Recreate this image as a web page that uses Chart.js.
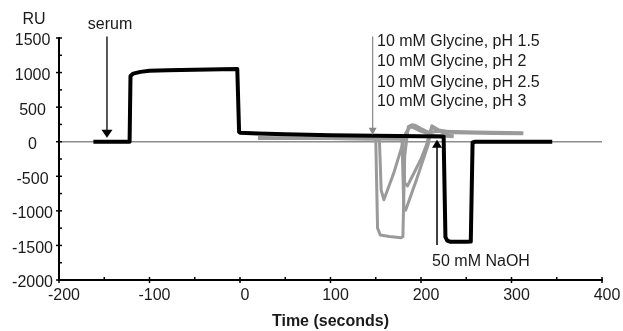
<!DOCTYPE html>
<html><head><meta charset="utf-8">
<script src="https://cdn.jsdelivr.net/npm/chart.js@4/dist/chart.umd.min.js"></script>
<style>html,body{margin:0;padding:0;background:#fff;} #wrap{width:623px;height:331px;}</style>
</head><body><div id="wrap"><canvas id="c" width="623" height="331"></canvas></div>
<script>
// ---- axis ticks ----
const xTickValues = [-200, -100, 0, 100, 200, 300, 400];
const xMinorValues = [-150, -50, 50, 150, 250, 350];
const yTickValues = [-2000, -1500, -1000, -500, 0, 500, 1000, 1500];
const yMinorValues = [-1750, -1250, -750, -250, 250, 750, 1250];

// ---- black sensorgram: serum injection + 50 mM NaOH ----
const serumTime = [-162, -122, -121, -118, -110, -100, -80, -50, -20, -3, -1, 0, 20, 50, 100, 150, 200, 225, 227, 229, 232, 250, 255, 257, 260, 300, 345];
const serumRU   = [0, 0, 950, 985, 1010, 1025, 1035, 1042, 1048, 1052, 140, 130, 120, 108, 95, 85, 80, 77, -1380, -1430, -1445, -1448, -1445, -10, 0, 0, 0];

// ---- grey sensorgrams: glycine regenerations ----
const glyA_Time = [20, 60, 100, 150, 152, 155, 165, 178, 180, 182, 186, 190, 193, 200, 208, 225, 260, 313];
const glyA_RU   = [60, 55, 50, 45, -1250, -1350, -1370, -1390, -1370, -200, 220, 245, 240, 190, 140, 150, 140, 130];
const glyB_Time = [20, 100, 154, 156, 159, 170, 180, 183, 187, 190, 200, 215, 236];
const glyB_RU   = [50, 45, 40, -700, -840, -450, -20, 120, 200, 215, 150, 90, 70];
const glyC_Time = [20, 100, 179, 181, 183, 195, 208, 210, 212, 220, 236, 280, 313];
const glyC_RU   = [50, 45, 40, -950, -990, -550, -40, 120, 230, 170, 130, 120, 115];
const glyD_Time = [20, 100, 180, 182, 185, 200, 206, 209, 212, 220, 236];
const glyD_RU   = [50, 45, 40, -600, -640, -250, -50, 100, 210, 150, 80];

// ---- annotations (data coordinates) ----
const serumArrow = {t: -147, from: 1520, to: 58};
const serumLabel = {t: -143.6, v: 1696, text: 'serum'};
const glyArrow = {t: 146.6, from: 1520, to: 101};
const glyLabelT = 151.4;
const glyLabelV = [1449, 1159, 855, 580];
const glyLabels = ['10 mM Glycine, pH 1.5', '10 mM Glycine, pH 2', '10 mM Glycine, pH 2.5', '10 mM Glycine, pH 3'];
const naohArrow = {t: 217.7, from: -1493, to: 29};
const naohLabel = {t: 266.3, v: -1739, text: '50 mM NaOH'};
const ruLabel = {t: -227.6, v: 1768, text: 'RU'};

const FONT = "'Liberation Sans', Arial, sans-serif";
const TEXT = '#1a1a1a';
const GREY = '#9a9a9a';

function pts(ts, vs) { return ts.map((t, i) => ({x: t, y: vs[i]})); }

function arrow(ctx, x, y1, y2, color, lw, hw, hh) {
  ctx.save();
  ctx.strokeStyle = color; ctx.fillStyle = color; ctx.lineWidth = lw;
  const dir = y2 > y1 ? 1 : -1;
  ctx.beginPath(); ctx.moveTo(x, y1); ctx.lineTo(x, y2 - dir * hh * 0.5); ctx.stroke();
  ctx.beginPath(); ctx.moveTo(x, y2); ctx.lineTo(x - hw / 2, y2 - dir * hh); ctx.lineTo(x + hw / 2, y2 - dir * hh); ctx.closePath(); ctx.fill();
  ctx.restore();
}

const annot = {
  id: 'annot',
  beforeDatasetsDraw(chart) {
    const {ctx, chartArea: a, scales: {y}} = chart;
    const y0 = y.getPixelForValue(0);
    ctx.save(); ctx.strokeStyle = '#8c8c8c'; ctx.lineWidth = 1.5;
    ctx.beginPath(); ctx.moveTo(a.left, y0); ctx.lineTo(a.right, y0); ctx.stroke(); ctx.restore();
  },
  afterDraw(chart) {
    const {ctx, scales: {x, y}} = chart;
    const axY = x.top;
    ctx.save();
    ctx.strokeStyle = '#000'; ctx.lineWidth = 1.5;
    xTickValues.forEach(v => { const p = x.getPixelForValue(v); ctx.beginPath(); ctx.moveTo(p, axY - 3); ctx.lineTo(p, axY + 3); ctx.stroke(); });
    xMinorValues.forEach(v => { const p = x.getPixelForValue(v); ctx.beginPath(); ctx.moveTo(p, axY - 3); ctx.lineTo(p, axY); ctx.stroke(); });
    const ax = y.right;
    yTickValues.forEach(v => { const p = y.getPixelForValue(v); ctx.beginPath(); ctx.moveTo(ax - 3, p); ctx.lineTo(ax + 3, p); ctx.stroke(); });
    yMinorValues.forEach(v => { const p = y.getPixelForValue(v); ctx.beginPath(); ctx.moveTo(ax, p); ctx.lineTo(ax + 3, p); ctx.stroke(); });
    ctx.restore();

    arrow(ctx, x.getPixelForValue(serumArrow.t), y.getPixelForValue(serumArrow.from), y.getPixelForValue(serumArrow.to), '#000', 1.3, 11, 8);
    arrow(ctx, x.getPixelForValue(glyArrow.t), y.getPixelForValue(glyArrow.from), y.getPixelForValue(glyArrow.to), '#888', 1.2, 8, 7);
    arrow(ctx, x.getPixelForValue(naohArrow.t), y.getPixelForValue(naohArrow.from), y.getPixelForValue(naohArrow.to), '#000', 1.5, 10, 8);

    ctx.save();
    ctx.fillStyle = TEXT; ctx.font = `16px ${FONT}`; ctx.textBaseline = 'middle';
    ctx.textAlign = 'center';
    ctx.fillText(serumLabel.text, x.getPixelForValue(serumLabel.t), y.getPixelForValue(serumLabel.v));
    ctx.fillText(naohLabel.text, x.getPixelForValue(naohLabel.t), y.getPixelForValue(naohLabel.v));
    ctx.fillText(ruLabel.text, x.getPixelForValue(ruLabel.t), y.getPixelForValue(ruLabel.v));
    ctx.textAlign = 'left';
    glyLabels.forEach((s, i) => ctx.fillText(s, x.getPixelForValue(glyLabelT), y.getPixelForValue(glyLabelV[i])));
    ctx.restore();
  }
};

const greyDs = (ts, vs, lbl) => ({label: lbl, data: pts(ts, vs), borderColor: GREY, borderWidth: 3, fill: false});

new Chart(document.getElementById('c').getContext('2d'), {
  type: 'line',
  data: {
    datasets: [
      {label: 'serum / NaOH', data: pts(serumTime, serumRU), borderColor: '#000', borderWidth: 4, fill: false},
      greyDs(glyA_Time, glyA_RU, 'pH 1.5'),
      greyDs(glyB_Time, glyB_RU, 'pH 2'),
      greyDs(glyC_Time, glyC_RU, 'pH 2.5'),
      greyDs(glyD_Time, glyD_RU, 'pH 3')
    ]
  },
  options: {
    responsive: false, animation: false, devicePixelRatio: 1,
    layout: {padding: {top: 38, right: 21, left: 0, bottom: 0}},
    plugins: {legend: {display: false}, tooltip: {enabled: false}},
    elements: {point: {radius: 0}, line: {tension: 0, borderJoinStyle: 'round'}},
    scales: {
      x: {
        type: 'linear', min: -200, max: 400,
        afterBuildTicks: s => { s.ticks = xTickValues.map(v => ({value: v})); },
        afterFit: s => { s.height = 51; },
        grid: {drawOnChartArea: false, drawTicks: false},
        border: {color: '#000', width: 2},
        ticks: {font: {family: FONT, size: 16}, color: TEXT, padding: 6, labelOffset: 5, maxRotation: 0, autoSkip: false, callback: v => String(v)},
        title: {display: true, text: 'Time (seconds)', color: TEXT, font: {family: FONT, size: 16, weight: 'bold'}, padding: {top: 0, bottom: 0}}
      },
      y: {
        type: 'linear', min: -2000, max: 1500,
        afterBuildTicks: s => { s.ticks = yTickValues.map(v => ({value: v})); },
        afterFit: s => { s.width = 59; },
        grid: {drawOnChartArea: false, drawTicks: false},
        border: {color: '#000', width: 2},
        ticks: {font: {family: FONT, size: 16}, color: TEXT, padding: 6, crossAlign: 'center', labelOffset: 3, autoSkip: false, callback: v => String(v)}
      }
    }
  },
  plugins: [annot]
});
</script>
</body></html>
